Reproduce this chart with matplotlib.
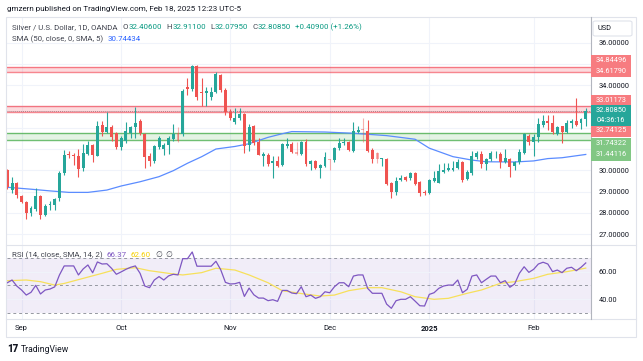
import matplotlib
matplotlib.use("Agg")
import matplotlib.pyplot as plt
from matplotlib.patches import Rectangle, FancyBboxPatch
from matplotlib.lines import Line2D
import pandas as pd

plt.rcParams['font.family'] = ['Roboto', 'DejaVu Sans']

W, H = 643, 361

# trading days shown (OANDA daily, weekdays without Christmas / New Year)
dates = pd.bdate_range("2024-08-28", "2025-02-18")
dates = dates[~dates.isin(pd.to_datetime(["2024-12-25", "2025-01-01"]))]

opens = [
    30.00, 29.07, 29.39, 28.79, 28.52, 27.98, 28.18, 28.79, 27.90, 28.35,
    28.37, 28.68, 29.86, 30.78, 30.74, 30.67, 30.10, 30.77, 31.19, 30.69,
    32.13, 31.80, 32.05, 31.74, 31.11, 31.39, 31.77, 32.05, 32.32, 31.69,
    30.67, 30.44, 31.11, 31.00, 31.19, 31.47, 31.75, 31.71, 33.91, 33.81,
    34.91, 33.70, 33.62, 33.46, 33.70, 34.48, 33.78, 32.75, 32.29, 32.45,
    32.64, 31.19, 32.08, 31.32, 30.67, 30.72, 30.33, 30.44, 30.25, 31.14,
    31.22, 30.88, 30.75, 31.35, 30.28, 30.44, 30.09, 30.22, 30.52, 30.48,
    31.04, 31.30, 31.32, 30.91, 31.82, 31.95, 31.85, 30.96, 30.80, 30.52,
    30.53, 29.39, 28.99, 29.54, 29.70, 29.62, 29.86, 29.44, 28.99, 28.92,
    29.51, 29.42, 29.91, 30.01, 30.00, 30.09, 30.40, 29.60, 29.86, 30.64,
    30.77, 30.28, 30.53, 30.80, 30.77, 30.40, 30.52, 30.20, 30.38, 30.83,
    31.62, 31.35, 31.55, 32.13, 32.32, 32.21, 31.71, 32.08, 31.82, 32.24,
    32.33, 32.21, 32.406]
highs = [
    30.05, 29.67, 29.45, 28.85, 28.55, 28.30, 29.15, 28.85, 28.40, 28.55,
    28.70, 29.95, 30.95, 30.90, 30.80, 31.00, 31.25, 31.40, 31.25, 32.30,
    32.30, 32.76, 32.15, 31.80, 31.60, 32.29, 32.10, 32.96, 32.40, 31.75,
    30.80, 31.20, 31.60, 31.30, 31.60, 32.16, 32.05, 33.80, 34.33, 34.95,
    34.93, 34.33, 33.90, 33.90, 34.64, 34.55, 33.85, 32.90, 32.92, 32.95,
    32.70, 32.20, 32.15, 31.50, 30.85, 30.80, 30.65, 30.65, 31.30, 31.51,
    31.32, 31.32, 31.40, 31.45, 30.50, 30.50, 30.30, 30.88, 30.55, 31.10,
    31.51, 31.51, 31.40, 32.29, 32.10, 32.45, 32.37, 31.05, 30.85, 30.60,
    30.60, 29.45, 29.70, 29.80, 29.75, 29.90, 29.90, 29.50, 29.06, 29.60,
    29.95, 30.30, 30.35, 30.35, 30.45, 30.55, 30.44, 30.00, 30.90, 30.90,
    30.93, 30.60, 30.90, 30.90, 30.85, 31.00, 30.60, 30.45, 31.00, 31.74,
    31.70, 31.70, 32.45, 32.60, 32.60, 32.62, 32.10, 32.10, 32.35, 32.40,
    33.42, 32.45, 32.911]
lows = [
    29.10, 28.93, 28.70, 28.45, 27.69, 27.85, 28.10, 27.70, 27.85, 28.15,
    28.15, 28.55, 29.80, 30.60, 30.25, 29.70, 29.95, 30.70, 30.40, 30.65,
    31.60, 31.75, 31.40, 31.00, 30.95, 31.30, 31.50, 31.50, 31.65, 30.12,
    30.20, 30.35, 31.00, 30.70, 30.77, 31.40, 31.35, 31.60, 33.54, 33.75,
    33.31, 33.00, 33.00, 33.31, 33.65, 33.70, 32.60, 32.35, 32.20, 32.35,
    30.83, 30.90, 31.20, 30.70, 30.20, 30.20, 29.65, 30.15, 30.20, 31.05,
    30.80, 30.72, 30.72, 30.20, 30.01, 30.05, 29.65, 30.15, 30.00, 30.40,
    30.95, 31.20, 30.90, 30.85, 31.75, 31.35, 30.85, 30.35, 30.35, 30.20,
    29.30, 28.71, 28.85, 29.50, 29.50, 29.55, 29.30, 28.80, 28.85, 28.88,
    29.45, 29.38, 29.85, 29.95, 29.95, 30.05, 29.45, 29.55, 29.80, 30.55,
    30.10, 30.00, 30.45, 30.60, 30.10, 30.35, 29.70, 30.00, 30.30, 30.75,
    31.20, 30.69, 31.35, 32.05, 31.90, 31.70, 31.65, 31.27, 31.75, 32.00,
    32.08, 31.95, 32.0795]
closes = [
    29.20, 29.42, 28.84, 28.52, 27.98, 28.24, 28.79, 27.90, 28.32, 28.42,
    28.64, 29.86, 30.72, 30.70, 30.68, 30.05, 30.80, 31.19, 30.72, 32.08,
    31.82, 32.05, 31.58, 31.11, 31.50, 31.86, 32.02, 32.24, 31.74, 30.64,
    30.44, 31.16, 31.51, 31.19, 31.51, 31.69, 31.40, 33.73, 33.81, 34.91,
    33.46, 33.65, 33.75, 33.67, 34.52, 33.78, 32.76, 32.45, 32.48, 32.64,
    31.16, 32.05, 31.27, 30.72, 30.75, 30.28, 30.44, 30.22, 31.22, 31.22,
    30.85, 30.77, 31.35, 30.28, 30.44, 30.12, 30.25, 30.64, 30.47, 31.04,
    31.27, 31.35, 30.96, 31.85, 31.90, 31.88, 30.91, 30.52, 30.52, 30.57,
    29.34, 28.99, 29.50, 29.65, 29.54, 29.86, 29.34, 28.92, 28.92, 29.54,
    29.62, 29.97, 30.01, 30.09, 30.10, 30.40, 29.54, 29.91, 30.69, 30.83,
    30.30, 30.53, 30.83, 30.83, 30.40, 30.59, 30.17, 30.40, 30.88, 31.69,
    31.32, 31.58, 32.16, 32.32, 32.21, 31.79, 32.05, 31.79, 32.24, 32.33,
    32.13, 32.40, 32.8085]
faded = [36, 61, 68, 75, 78]

# SMA 50 (bar index, value)
sma_idx = [0, 5, 9, 13, 17, 21, 24, 28, 32, 35, 38, 41, 44, 48, 51, 55, 58,
           60, 67, 73, 80, 86, 89, 94, 98, 101, 107, 111, 114, 117, 122]
sma_val = [29.20, 29.11, 29.03, 28.96, 28.96, 29.07, 29.26, 29.46, 29.70,
           29.98, 30.33, 30.64, 31.00, 31.12, 31.25, 31.55, 31.72, 31.82,
           31.80, 31.74, 31.63, 31.46, 31.04, 30.64, 30.48, 30.40, 30.39,
           30.44, 30.55, 30.59, 30.744]

rsi = [
    51.9, 53.9, 49.5, 46.6, 42.9, 44.9, 50.0, 43.7, 46.6, 47.3,
    48.9, 57.6, 64.2, 64.2, 64.2, 57.6, 62.0, 64.9, 59.2, 67.1,
    65.6, 65.8, 62.4, 58.1, 59.8, 61.7, 63.2, 64.2, 58.8, 49.5,
    48.3, 53.9, 56.4, 53.9, 56.9, 58.1, 57.6, 69.5, 69.5, 74.4,
    64.0, 64.0, 64.0, 64.0, 67.6, 61.5, 52.2, 51.0, 51.2, 52.2,
    41.9, 48.0, 43.1, 40.7, 40.7, 38.8, 39.5, 38.3, 46.3, 46.3,
    44.4, 43.9, 49.0, 41.7, 42.9, 40.5, 41.7, 45.3, 44.6, 49.0,
    51.9, 51.9, 49.0, 56.8, 57.6, 57.6, 47.8, 44.2, 44.2, 44.2,
    36.3, 33.2, 38.8, 39.8, 39.8, 41.7, 38.5, 35.1, 34.9, 43.4,
    44.6, 47.8, 49.5, 50.2, 50.2, 53.9, 44.6, 47.1, 56.8, 57.6,
    51.9, 54.4, 56.8, 56.8, 51.9, 53.4, 48.6, 51.0, 58.8, 63.6,
    59.5, 61.7, 65.6, 66.9, 65.6, 60.0, 61.2, 59.3, 62.5, 63.2,
    60.7, 63.2, 66.37]
rsi_ma_idx = [0, 4, 7, 10, 12, 16, 20, 23, 27, 30, 34, 37, 41, 44, 48, 51,
              55, 58, 62, 66, 69, 72, 76, 79, 83, 86, 90, 93, 97, 100, 104,
              107, 111, 114, 118, 122]
rsi_ma_val = [53.4, 53.9, 52.7, 50.2, 51.4, 55.1, 58.8, 61.7, 62.9, 60.7,
              58.8, 57.6, 59.3, 62.5, 61.2, 57.6, 51.9, 46.1, 44.0, 42.2,
              42.9, 46.1, 48.3, 48.3, 45.3, 41.7, 39.8, 40.5, 44.2, 46.6,
              51.5, 52.7, 55.1, 58.1, 60.0, 62.6]

red_zones = [(34.61790, 34.84496), (32.74125, 33.01173)]
green_zone = (31.44116, 31.74322)
last_price = 32.80850

month_labels = ['Sep', 'Oct', 'Nov', 'Dec', '2025', 'Feb']
month_starts = ['2024-09-02', '2024-10-01', '2024-11-01', '2024-12-02',
                '2025-01-02', '2025-02-03']

UP, DOWN = '#26a69a', '#ef5350'
GRID = '#f0f3fa'
TXT = '#131722'


def fx(x):
    return x / W


def fy(y):
    return 1 - y / H


fig = plt.figure(figsize=(W / 100, H / 100), dpi=100)
fig.patch.set_facecolor('white')

L, R, T, M, B = 6.5, 590.5, 17, 245, 319
ax = fig.add_axes([fx(L), fy(M), fx(R) - fx(L), fy(T) - fy(M)])
ax2 = fig.add_axes([fx(L), fy(B), fx(R) - fx(L), fy(M) - fy(B)], sharex=ax)

n = len(dates)
idx = list(range(n))
mpos = [list(dates).index(pd.Timestamp(d)) for d in month_starts]

# ---- price pane
for a in (ax, ax2):
    for s in a.spines.values():
        s.set_visible(False)
    for m in mpos:
        a.axvline(m, color=GRID, lw=0.8, zorder=0)
for p in range(27, 37):
    ax.axhline(p, color=GRID, lw=0.8, zorder=0)

for lo, hi in red_zones:
    ax.axhspan(lo, hi, color='#f23645', alpha=0.18, lw=0, zorder=1)
    ax.axhline(lo, color='#f23645', alpha=0.6, lw=1.0, zorder=1)
    ax.axhline(hi, color='#f23645', alpha=0.6, lw=1.0, zorder=1)
ax.axhspan(green_zone[0], green_zone[1], color='#4caf50', alpha=0.15, lw=0, zorder=1)
ax.axhline(green_zone[0], color='#4caf50', alpha=0.8, lw=1.0, zorder=1)
ax.axhline(green_zone[1], color='#4caf50', alpha=0.8, lw=1.0, zorder=1)
ax.axhline(last_price, color='#b0808a', lw=0.7, ls=(0, (1, 1)), zorder=1)

for i in idx:
    o, h, l, c = opens[i], highs[i], lows[i], closes[i]
    col = UP if c >= o else DOWN
    al = 0.45 if i in faded else 1.0
    ax.vlines(i, l, h, color=col, lw=0.8, alpha=al, zorder=3)
    body = max(abs(c - o), 0.03)
    ax.bar(i, body, bottom=min(o, c), width=0.62, color=col, alpha=al,
           lw=0, zorder=4)

ax.plot(sma_idx, sma_val, color='#5b8cff', lw=0.9, zorder=2)

ax.set_xlim(-0.17, 123.0)
ax.set_ylim(26.485, 37.21)
ax.yaxis.tick_right()
ax.set_yticks([27, 28, 29, 30, 34, 36])
ax.set_yticklabels(['%.5f' % v for v in [27, 28, 29, 30, 34, 36]])
ax.tick_params(axis='y', length=0, pad=6, labelsize=5.3, labelcolor=TXT)
ax.tick_params(axis='x', length=0, labelbottom=False)

# ---- RSI pane
ax2.axhspan(30, 70, color='#7e57c2', alpha=0.1, lw=0, zorder=0)
for v in (40, 60):
    ax2.axhline(v, color=GRID, lw=0.8, zorder=0)
for v in (70, 50, 30):
    ax2.axhline(v, color='#9598a1', lw=0.7, ls=(0, (3, 3)), zorder=1)
ax2.plot(idx, rsi, color='#7e57c2', lw=0.9, zorder=3)
ax2.plot(rsi_ma_idx, rsi_ma_val, color='#f7e05b', lw=0.9, zorder=2)
ax2.set_ylim(25.4, 79.5)
ax2.yaxis.tick_right()
ax2.set_yticks([40, 60])
ax2.set_yticklabels(['40.00', '60.00'])
ax2.tick_params(axis='y', length=0, pad=6, labelsize=5.3, labelcolor=TXT)
ax2.set_xticks(mpos)
ax2.set_xticklabels(month_labels)
ax2.tick_params(axis='x', length=0, pad=4.5, labelsize=5.5, labelcolor=TXT)
for lab in ax2.get_xticklabels():
    if lab.get_text() == '2025':
        lab.set_fontweight('bold')

# ---- frame lines
fc = '#e0e3eb'
fig.add_artist(Rectangle((fx(6), fy(337)), fx(636) - fx(6), fy(17) - fy(337),
                         fill=False, ec=fc, lw=0.8, transform=fig.transFigure))
for y in (M, B):
    fig.add_artist(Line2D([fx(6), fx(636)], [fy(y), fy(y)], color=fc, lw=0.8))
fig.add_artist(Line2D([fx(R), fx(R)], [fy(17), fy(B)], color='#b2b5be', lw=0.8))

# ---- price axis badges
fig.add_artist(FancyBboxPatch((fx(593), fy(36)), fx(632) - fx(593), fy(21) - fy(36),
                              boxstyle='round,pad=0,rounding_size=0.004',
                              fc='white', ec=fc, lw=0.8, transform=fig.transFigure,
                              zorder=5))
fig.text(fx(598), fy(28.5), 'USD', fontsize=5.3, color=TXT, va='center', zorder=6)


def badge(y, text, color, h=11, y2=None, text2=None):
    top = y - h / 2
    bot = y + h / 2 if y2 is None else y2 + h / 2
    fig.add_artist(Rectangle((fx(591), fy(bot)), fx(631) - fx(591), fy(top) - fy(bot),
                             fc=color, ec='none', transform=fig.transFigure, zorder=5))
    fig.text(fx(611), fy(y), text, fontsize=5.3, color='white', ha='center',
             va='center', zorder=6)
    if text2:
        fig.text(fx(611), fy(y2), text2, fontsize=5.3, color='white', ha='center',
                 va='center', zorder=6)


RED_B, GRN_B = '#f77c80', '#81c784'
badge(61, '%.5f' % red_zones[0][1], RED_B)
badge(71.7, '%.5f' % red_zones[0][0], RED_B)
badge(100, '%.5f' % red_zones[1][1], RED_B)
badge(110.7, '%.5f' % last_price, UP, y2=120.5, text2='04:36:16')
badge(131, '%.5f' % red_zones[1][0], RED_B)
badge(143.3, '%.5f' % green_zone[1], GRN_B)
badge(155, '%.5f' % green_zone[0], GRN_B)

# ---- header texts, placed one after another
renderer = fig.canvas.get_renderer()


def text_row(x, y, parts, fs=5.7):
    for s, col, gap in parts:
        t = fig.text(fx(x), fy(y), s, fontsize=fs, color=col, va='center')
        bb = t.get_window_extent(renderer)
        x = bb.x1 + gap


fig.text(fx(7), fy(9), 'gmzern published on TradingView.com, Feb 18, 2025 12:23 UTC-5',
         fontsize=5.8, color=TXT, va='center')
LEG = '#434651'
VAL = '#089981'
text_row(12.3, 26.7, [('Silver / U.S. Dollar, 1D, OANDA', LEG, 5),
                      ('O', LEG, 0.6), ('32.40600', VAL, 4),
                      ('H', LEG, 0.6), ('32.91100', VAL, 4),
                      ('L', LEG, 0.6), ('32.07950', VAL, 4),
                      ('C', LEG, 0.6), ('32.80850', VAL, 4),
                      ('+0.40900 (+1.26%)', VAL, 0)])
text_row(12.3, 39, [('SMA (50, close, 0, SMA, 5)', LEG, 4),
                    ('%.5f' % 30.74434, '#2962ff', 0)])
text_row(12.3, 255, [('RSI (14, close, SMA, 14, 2)', LEG, 4),
                     ('%.2f' % rsi[-1], '#7e57c2', 4),
                     ('%.2f' % 62.60, '#f5d000', 4),
                     ('\u2205', LEG, 3), ('\u2205', LEG, 0)])

# ---- footer logo
fig.text(fx(7), fy(349.5), '17', fontsize=7, fontweight='heavy', color=TXT, va='center')
fig.text(fx(21), fy(349.5), 'TradingView', fontsize=6.2, color=TXT, va='center')

fig.savefig('out.png', dpi=100, facecolor='white')
